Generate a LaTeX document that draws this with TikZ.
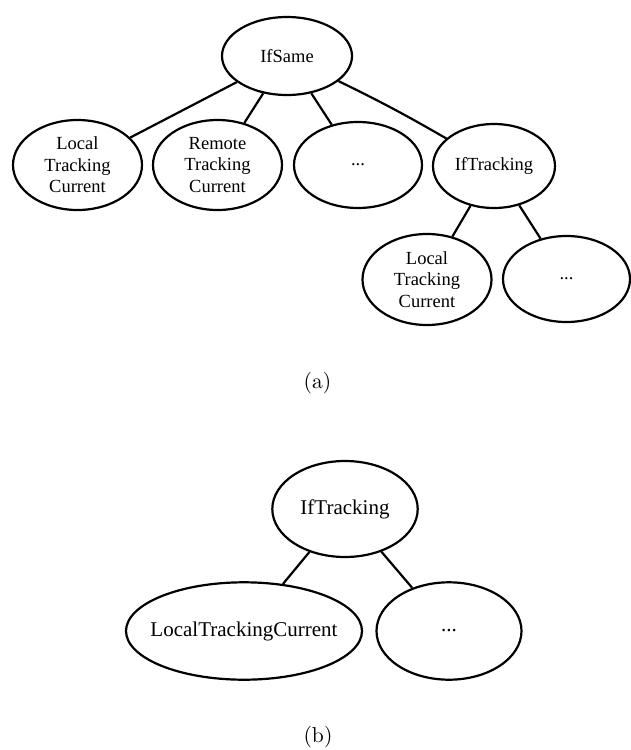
\documentclass[tikz,border=0pt]{standalone}
\usepackage{fontspec}
\newfontfamily\tms{Liberation Serif}
\usetikzlibrary{shapes.geometric}
\tikzset{
  tnode/.style={draw, ellipse, line width=1.1pt, inner sep=0pt, align=center,
    font=\tms\fontsize{9.25}{10.75}\selectfont},
  tnodeb/.style={tnode, font=\tms\fontsize{10.5}{12.5}\selectfont},
  edge/.style={line width=1.1pt},
  capt/.style={font=\fontsize{10.8}{13}\selectfont, inner sep=0pt}
}
\begin{document}
\begin{tikzpicture}[x=0.5pt, y=-0.5pt]
\useasboundingbox (0,0) rectangle (631,750);
% (a)
\node[tnode, minimum width=65pt, minimum height=39pt] (ifsame) at (287,56) {IfSame};
\node[tnode, minimum width=64.5pt, minimum height=45pt] (ltca) at (77.5,165) {Local\\Tracking\\Current};
\node[tnode, minimum width=64.5pt, minimum height=45pt] (rtca) at (217.5,165) {Remote\\Tracking\\Current};
\node[tnode, minimum width=64pt, minimum height=43pt] (dotsa) at (358,165) {...};
\node[tnode, minimum width=61pt, minimum height=42pt] (ifta) at (494,166) {IfTracking};
\node[tnode, minimum width=64.5pt, minimum height=45.5pt] (ltcb) at (427,279.5) {Local\\Tracking\\Current};
\node[tnode, minimum width=63.5pt, minimum height=43pt] (dotsb) at (566.5,279) {...};
\draw[edge] (ifsame) -- (ltca);
\draw[edge] (ifsame) -- (rtca);
\draw[edge] (ifsame) -- (dotsa);
\draw[edge] (ifsame) to[bend left=2] (ifta);
\draw[edge] (ifta) -- (ltcb);
\draw[edge] (ifta) -- (dotsb);
\node[capt] (capa) at (317.5,383) {(a)};
% (b)
\node[tnodeb, minimum width=72.7pt, minimum height=48pt] (iftc) at (345,509) {IfTracking};
\node[tnodeb, minimum width=118pt, minimum height=48.7pt] (ltcc) at (244,631) {\makebox[0pt][c]{LocalTrackingCurrent}};
\node[tnodeb, minimum width=72.5pt, minimum height=48.7pt] (dotsc) at (449,631) {...};
\draw[edge] (iftc) -- (ltcc);
\draw[edge] (iftc) -- (dotsc);
\node[capt] (capb) at (318,737) {(b)};
\end{tikzpicture}
\end{document}
